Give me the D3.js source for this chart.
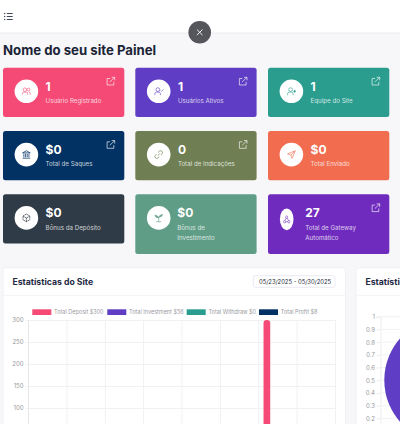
<!DOCTYPE html>
<html>
<head>
<meta charset="utf-8">
<script src="https://cdn.jsdelivr.net/npm/d3@7"></script>
<style>
html, body { margin: 0; padding: 0; background: #f7f7f9; overflow: hidden; }
svg { display: block; font-family: Inter, sans-serif; }
</style>
</head>
<body>
<svg width="400" height="424"></svg>
<script>
// Данные карточек
const cardTitles = ["Usuário Registrado", "Usuários Ativos", "Equipe do Site", "Total de Saques", "Total de Indicações", "Total Enviado", "Bônus da Depósito", "Bônus de|Investimento", "Total de Gateway|Automático"];
const cardValues = ["1", "1", "1", "$0", "0", "$0", "$0", "$0", "27"];
const cardColors = ["#f44a75", "#5f3dc4", "#2a9d8f", "#023263", "#6f7f53", "#f26d50", "#2f3b46", "#5f9d87", "#6f2bbd"];
const cardLinks = [true, true, true, true, true, false, false, false, true];

// Данные графика
const dates = ["05/23", "05/24", "05/25", "05/26", "05/27", "05/28", "05/29", "05/30"];
const seriesNames = ["Total Deposit $300", "Total Investment $56", "Total Withdraw $0", "Total Profit $8"];
const seriesColors = ["#f44a75", "#5f3dc4", "#2a9d8f", "#023263"];
const seriesOnLastDay = [300, 56, 0, 8];
const yTicks = [100, 150, 200, 250, 300];
const pieTicks = [0.2, 0.3, 0.4, 0.5, 0.6, 0.7, 0.8, 0.9, 1];
const bubbleValue = 0.5;

const svg = d3.select("svg");

// Шапка
svg.append("rect").attr("x", 0).attr("y", 0).attr("width", 400).attr("height", 33).attr("fill", "#fff");
svg.append("line").attr("x1", 0).attr("x2", 400).attr("y1", 33).attr("y2", 33).attr("stroke", "#ebebf2");
for (let i = 0; i < 3; i++) {
    svg.append("circle").attr("cx", 4.7).attr("cy", 13.5 + i * 3).attr("r", 0.7).attr("fill", "#3c4658");
    svg.append("line").attr("x1", 6.8).attr("x2", 12.7).attr("y1", 13.5 + i * 3).attr("y2", 13.5 + i * 3)
        .attr("stroke", "#3c4658").attr("stroke-width", 1);
}
svg.append("text").attr("x", 3).attr("y", 55.3).text("Nome do seu site Painel")
    .attr("font-size", 13.2).attr("font-weight", 700).attr("fill", "#1b2436");

// Карточки
const cardX = [3, 135.3, 268];
const cardY = [67.7, 131, 194.3];
const cardW = 121.3;

function drawCard(i) {
    const col = i % 3, row = Math.floor(i / 3);
    const lines = cardTitles[i].split("|");
    const h = lines.length > 1 ? 59.7 : 49.2;
    const g = svg.append("g").attr("transform", `translate(${cardX[col]},${cardY[row]})`);
    g.append("rect").attr("width", cardW).attr("height", h).attr("rx", 2.5).attr("fill", cardColors[i]);
    // У последней карточки круг сжат по ширине
    const iconCx = i === 8 ? 18.7 : 23.4;
    const iconCy = i === 8 ? 25 : 23.6;
    g.append("ellipse").attr("cx", iconCx).attr("cy", iconCy)
        .attr("rx", i === 8 ? 6.8 : 11.8).attr("ry", i === 8 ? 10.9 : 11.8).attr("fill", "#fff");
    drawIcon(g, i, iconCx, iconCy);
    const tx = i === 8 ? 37.3 : (i === 7 ? 42 : 42.6);
    g.append("text").attr("x", tx).attr("y", 23.2).text(cardValues[i])
        .attr("font-size", 12).attr("font-weight", 700).attr("fill", "#fff");
    lines.forEach((l, k) => {
        g.append("text").attr("x", tx).attr("y", 35.3 + k * 10).text(l)
            .attr("font-size", 6.2).attr("fill", "#fff").attr("fill-opacity", 0.78);
    });
    if (cardLinks[i]) {
        const a = g.append("g").attr("transform", "translate(103.3,9.3)")
            .attr("fill", "none").attr("stroke", "#fff").attr("stroke-opacity", 0.8).attr("stroke-width", 0.8);
        a.append("path").attr("d", "M3.8 1.5H0.8V8H7.5V4.8");
        a.append("path").attr("d", "M3.5 5L8.4 0.3M5.4 0.3H8.4V3.3");
    }
}

// Упрощённые значки внутри белых кругов
function drawIcon(g, i, cx, cy) {
    const sx = i === 8 ? 0.7 : 0.85;
    const a = g.append("g").attr("transform", `translate(${cx},${cy}) scale(${sx},0.85)`)
        .attr("fill", "none").attr("stroke", cardColors[i]).attr("stroke-opacity", 0.8).attr("stroke-width", 0.9);
    if (i === 0) {
        a.append("circle").attr("cx", -1.8).attr("cy", -2).attr("r", 2);
        a.append("circle").attr("cx", 2.4).attr("cy", -2).attr("r", 1.7);
        a.append("path").attr("d", "M-4.5 4V2.5Q-4.5 1 -3 1H0Q1.5 1 1.5 2.5V4M3 1Q4.5 1 4.5 2.5V4");
    } else if (i === 1 || i === 2) {
        a.append("circle").attr("cx", -1).attr("cy", -2).attr("r", 2.2);
        a.append("path").attr("d", "M-4.5 4.5V3Q-4.5 1 -2.5 1H0.5Q2 1 2 3V4.5");
        if (i === 1) a.append("path").attr("d", "M2.5 -1L3.5 0L5.5 -2.2");
        else a.append("circle").attr("cx", 3.8).attr("cy", 0).attr("r", 1).attr("fill", cardColors[i]);
    } else if (i === 3) {
        a.append("path").attr("d", "M-4.5 -2L0 -4.5L4.5 -2ZM-4.5 4.2H4.5M-3 -1V3M-1 -1V3M1 -1V3M3 -1V3").attr("stroke-width", 1.1);
    } else if (i === 4) {
        a.append("path").attr("d", "M-1 1.2L1.2 -1M-0.8 -2.5L1 -4.2Q2.6 -5 4 -3.8Q5 -2.4 4 -1L2.5 0.6M0.8 2.6L-1 4.2Q-2.6 5 -4 3.8Q-5 2.4 -4 1L-2.5 -0.6").attr("stroke-width", 1);
    } else if (i === 5) {
        a.append("path").attr("d", "M-4.5 -0.8L4.5 -4.5L0.8 4.5L-0.5 0.5ZM-0.5 0.5L4.5 -4.5");
    } else if (i === 6) {
        a.append("path").attr("d", "M0 -4.5L4 -2.2V2.2L0 4.5L-4 2.2V-2.2ZM-4 -2.2L0 0L4 -2.2M0 0V4.5").attr("stroke-dasharray", "2 0.5").attr("stroke-width", 1.1);
    } else if (i === 7) {
        a.append("path").attr("d", "M0 4.5V-0.5M-3 4.5H3M0 0Q-1 -3.2 -4.5 -3.2Q-4 0 0 0ZM0 -0.8Q1 -3.8 4.5 -4Q4 -0.8 0 -0.8Z")
            .attr("fill", cardColors[i]).attr("fill-opacity", 0.8);
    } else {
        a.append("circle").attr("cx", 0).attr("cy", -2.5).attr("r", 1.5);
        a.append("circle").attr("cx", -3).attr("cy", 2.8).attr("r", 1.5);
        a.append("circle").attr("cx", 3).attr("cy", 2.8).attr("r", 1.5);
        a.append("path").attr("d", "M-1 -1.2L-2.5 1.3M1 -1.2L2.5 1.3M-1.5 2.8H1.5");
    }
}

d3.range(cardTitles.length).forEach(drawCard);

// Панели
function drawPanel(x, w, title) {
    svg.append("rect").attr("x", x).attr("y", 267.7).attr("width", w).attr("height", 170).attr("rx", 3)
        .attr("fill", "#fff").attr("stroke", "#f0f0f5");
    svg.append("line").attr("x1", x).attr("x2", x + w).attr("y1", 295.3).attr("y2", 295.3).attr("stroke", "#f3f3f7");
    svg.append("text").attr("x", x + 9.4).attr("y", 285.3).text(title)
        .attr("font-size", 8.7).attr("font-weight", 700).attr("fill", "#1f2a44");
}
drawPanel(3, 342.5, "Estatísticas do Site");
drawPanel(356, 120, "Estatísticas do Site");

// Поле выбора дат
svg.append("rect").attr("x", 253.3).attr("y", 275.7).attr("width", 81.7).attr("height", 11.6).attr("rx", 2)
    .attr("fill", "#fff").attr("stroke", "#e9e9f4");
svg.append("text").attr("x", 259).attr("y", 283.8).text("05/23/2025 - 05/30/2025")
    .attr("font-size", 5.85).attr("fill", "#222b3a");

// Шкалы столбчатой диаграммы
const scaleX = d3.scaleBand().domain(dates).range([28.5, 335.5]);
const scaleY = d3.scaleLinear().domain([0, 300]).range([452, 320]);
const scaleSeries = d3.scaleBand().domain(seriesNames).range([0, scaleX.bandwidth()]).paddingOuter(0.6);

const grid = svg.append("g");
grid.selectAll("line.h").data(yTicks).enter().append("line")
    .attr("x1", 26).attr("x2", 335.5)
    .attr("y1", d => scaleY(d) + 0.5).attr("y2", d => scaleY(d) + 0.5)
    .attr("stroke", "#f1f1f3");
grid.selectAll("line.v").data(dates.slice(1).concat("end")).enter().append("line")
    .attr("x1", d => (d === "end" ? 335.5 : scaleX(d))).attr("x2", d => (d === "end" ? 335.5 : scaleX(d)))
    .attr("y1", 320).attr("y2", 452)
    .attr("stroke", "#f1f1f3");
svg.append("line").attr("x1", 28.5).attr("x2", 28.5).attr("y1", 320).attr("y2", 452).attr("stroke", "#e6e6ea");

const axisY = d3.axisLeft(scaleY).tickValues(yTicks).tickSize(0).tickPadding(3.5);
const gY = svg.append("g").attr("transform", "translate(27,0)").call(axisY);
gY.select(".domain").remove();
gY.selectAll("text").attr("font-size", 6).attr("font-family", "Inter, sans-serif").attr("fill", "#98989d");

// Столбцы за последний активный день
const barW = 6.7;
svg.selectAll(".bar").data(seriesOnLastDay).enter().append("rect")
    .attr("x", (d, i) => scaleX("05/29") + scaleSeries(seriesNames[i]) + scaleSeries.bandwidth() / 2 - barW / 2)
    .attr("y", d => scaleY(d))
    .attr("width", barW)
    .attr("height", d => scaleY(0) - scaleY(d))
    .attr("rx", 3.3)
    .attr("fill", (d, i) => seriesColors[i]);

// Легенда
const legendX = [32.3, 107.3, 186.7, 259];
seriesNames.forEach((name, i) => {
    svg.append("rect").attr("x", legendX[i]).attr("y", 309.3).attr("width", 19).attr("height", 5.7)
        .attr("fill", seriesColors[i]);
    svg.append("text").attr("x", legendX[i] + 21.8).attr("y", 314).text(name)
        .attr("font-size", 5.5).attr("fill", "#9a9a9f");
});

// Правый график
const scalePie = d3.scaleLinear().domain([0, 1]).range([443.7, 316.7]);
const gP = svg.append("g").attr("transform", "translate(380.5,0)")
    .call(d3.axisLeft(scalePie).tickValues(pieTicks).tickSize(4).tickPadding(1.5).tickFormat(d3.format("~g")));
gP.select(".domain").attr("stroke", "#ececf0");
gP.selectAll("line").attr("stroke", "#ececf0");
gP.selectAll("text").attr("font-size", 6).attr("font-family", "Inter, sans-serif").attr("fill", "#98989d");
svg.selectAll(".pg").data(pieTicks).enter().append("line")
    .attr("x1", 380.5).attr("x2", 400).attr("y1", d => scalePie(d)).attr("y2", d => scalePie(d)).attr("stroke", "#f2f2f5");
svg.append("circle").attr("cx", 447.3).attr("cy", scalePie(bubbleValue)).attr("r", 63).attr("fill", "#5f3dc4");

// Кнопка закрытия
svg.append("circle").attr("cx", 199.7).attr("cy", 32.3).attr("r", 11.3).attr("fill", "#54565b");
svg.append("path").attr("d", "M196.9 29.5L202.5 35.1M202.5 29.5L196.9 35.1").attr("stroke", "#fff").attr("stroke-width", 0.9);
</script>
</body>
</html>
